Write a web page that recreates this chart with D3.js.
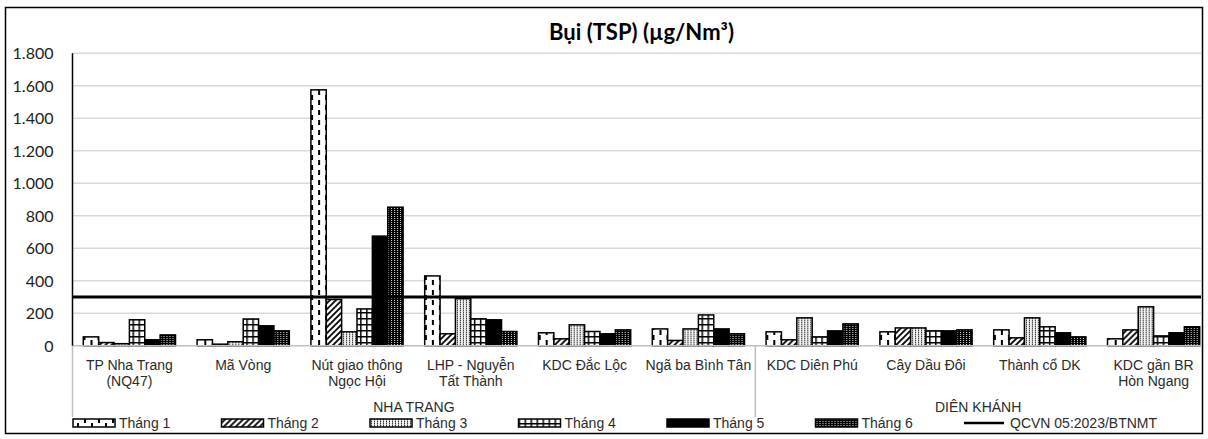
<!DOCTYPE html>
<html>
<head>
<meta charset="utf-8">
<script src="https://cdn.jsdelivr.net/npm/d3@7"></script>
<style>
  body { margin: 0; background: #fff; }
  svg { display: block; }
</style>
</head>
<body>
<svg id="chart" width="1208" height="439"></svg>
<script>
// Monitoring stations (x categories), split into lines for wrapped labels
const categories = [
  ["TP Nha Trang", "(NQ47)"],
  ["Mã Vòng"],
  ["Nút giao thông", "Ngọc Hội"],
  ["LHP - Nguyễn", "Tất Thành"],
  ["KDC Đắc Lộc"],
  ["Ngã ba Bình Tân"],
  ["KDC Diên Phú"],
  ["Cây Dầu Đôi"],
  ["Thành cổ DK"],
  ["KDC gần BR", "Hòn Ngang"]
];
const regionNames = ["NHA TRANG", "DIÊN KHÁNH"];
const regionSizes = [6, 4];

const months = ["Tháng 1", "Tháng 2", "Tháng 3", "Tháng 4", "Tháng 5", "Tháng 6"];

// TSP dust, µg/Nm³, one array per month across the stations
const thang1 = [55, 37, 1575, 430, 80, 104, 86, 86, 98, 43];
const thang2 = [20, 10, 285, 74, 43, 33, 37, 110, 49, 98];
const thang3 = [13, 25, 86, 290, 129, 104, 172, 110, 172, 240];
const thang4 = [160, 165, 227, 166, 88, 190, 55, 92, 117, 61];
const thang5 = [37, 123, 675, 160, 74, 104, 92, 92, 80, 80];
const thang6 = [67, 92, 853, 88, 98, 74, 135, 98, 55, 117];
const seriesValues = [thang1, thang2, thang3, thang4, thang5, thang6];

const limitLabel = "QCVN 05:2023/BTNMT";
const limitValue = 300;

const yTicks = [0, 200, 400, 600, 800, 1000, 1200, 1400, 1600, 1800];
const title = "Bụi (TSP) (µg/Nm³)";

const svg = d3.select("#chart");
const plot = { left: 72.5, right: 1210.5, top: 53.3, bottom: 345.8 };

const fmt = d3.formatLocale({ decimal: ",", thousands: ".", grouping: [3], currency: ["", ""] }).format(",");

// ---- fill patterns ----
const defs = svg.append("defs");
function pattern(id, w, h, build) {
  const p = defs.append("pattern").attr("id", id)
    .attr("patternUnits", "userSpaceOnUse").attr("width", w).attr("height", h);
  build(p);
}
pattern("p1", 14, 10, p => {
  p.append("rect").attr("width", 14).attr("height", 10).attr("fill", "#fff");
  p.append("rect").attr("x", 4).attr("y", 0).attr("width", 2).attr("height", 5).attr("fill", "#000");
  p.append("rect").attr("x", 11).attr("y", 5).attr("width", 2).attr("height", 5).attr("fill", "#000");
});
pattern("p2", 6, 6, p => {
  p.append("rect").attr("width", 6).attr("height", 6).attr("fill", "#fff");
  p.append("path").attr("d", "M0,6L6,0M-1.5,1.5L1.5,-1.5M4.5,7.5L7.5,4.5")
    .attr("stroke", "#000").attr("stroke-width", 1.8);
});
pattern("p3", 3, 2, p => {
  p.append("rect").attr("width", 3).attr("height", 2).attr("fill", "#f2f2f2");
  p.append("rect").attr("x", 1).attr("y", 0).attr("width", 1).attr("height", 1).attr("fill", "#333");
  p.append("rect").attr("x", 1).attr("y", 1).attr("width", 1).attr("height", 1).attr("fill", "#999");
});
pattern("p4", 6, 6, p => {
  p.append("rect").attr("width", 6).attr("height", 6).attr("fill", "#fff");
  p.append("rect").attr("width", 6).attr("height", 1.5).attr("fill", "#000");
  p.append("rect").attr("width", 1.5).attr("height", 6).attr("fill", "#000");
});
pattern("p5", 4, 4, p => {
  p.append("rect").attr("width", 4).attr("height", 4).attr("fill", "#000");
});
pattern("p6", 3, 2, p => {
  p.append("rect").attr("width", 3).attr("height", 2).attr("fill", "#000");
  p.append("rect").attr("x", 1).attr("y", 0).attr("width", 1).attr("height", 1).attr("fill", "#ddd");
});
const fills = ["url(#p1)", "url(#p2)", "url(#p3)", "url(#p4)", "url(#p5)", "url(#p6)"];

// ---- frame ----
svg.append("rect").attr("x", 5.5).attr("y", 7.5).attr("width", 1197).attr("height", 426)
  .attr("fill", "#fff").attr("stroke", "#000").attr("stroke-width", 1.5);

// ---- scales ----
const keys = categories.map((c, i) => i);
const x0 = d3.scaleBand().domain(keys).range([plot.left, plot.right]).padding(0);
const inner = 10.8;
const x1 = d3.scaleBand().domain(d3.range(months.length))
  .range([inner, x0.bandwidth() - inner]).padding(0);
const y = d3.scaleLinear().domain([0, 1800]).range([plot.bottom, plot.top]);

const clipRight = 1201;

// gridlines
svg.append("g").selectAll("line").data(yTicks.filter(t => t > 0)).join("line")
  .attr("x1", plot.left).attr("x2", clipRight)
  .attr("y1", d => y(d)).attr("y2", d => y(d))
  .attr("stroke", "#d9d9d9").attr("stroke-width", 1.5);

// y axis labels
svg.append("g").selectAll("text").data(yTicks).join("text")
  .attr("x", 53.5).attr("y", d => y(d)).attr("dy", "0.36em")
  .attr("text-anchor", "end")
  .style("font-family", "Lato, 'Open Sans', sans-serif").style("font-size", "16px").attr("fill", "#222")
  .text(d => fmt(d));

// bars
const groups = svg.append("g").selectAll("g").data(keys).join("g")
  .attr("transform", i => `translate(${x0(i)},0)`);
groups.selectAll("rect").data(i => seriesValues.map((s, m) => ({ m, v: s[i] }))).join("rect")
  .attr("x", d => x1(d.m)).attr("width", x1.bandwidth())
  .attr("y", d => y(d.v)).attr("height", d => y(0) - y(d.v))
  .attr("fill", d => fills[d.m]).attr("stroke", "#000").attr("stroke-width", 1.5);

// category axis line
svg.append("line").attr("x1", plot.left).attr("x2", clipRight)
  .attr("y1", y(0)).attr("y2", y(0)).attr("stroke", "#bfbfbf").attr("stroke-width", 1.5);

// vertical value axis line
svg.append("line").attr("x1", plot.left).attr("x2", plot.left)
  .attr("y1", plot.top).attr("y2", y(0)).attr("stroke", "#000").attr("stroke-width", 1.5);

// region dividers of the multi-level category axis
let acc = 0;
const dividers = [0];
regionSizes.forEach(n => { acc += n; dividers.push(acc); });
svg.append("g").selectAll("line").data(dividers.slice(0, -1)).join("line")
  .attr("x1", d => x0.range()[0] + d * x0.step()).attr("x2", d => x0.range()[0] + d * x0.step())
  .attr("y1", y(0)).attr("y2", 417).attr("stroke", "#bfbfbf").attr("stroke-width", 1.5);

// limit line
svg.append("line").attr("x1", plot.left).attr("x2", clipRight)
  .attr("y1", y(limitValue)).attr("y2", y(limitValue))
  .attr("stroke", "#000").attr("stroke-width", 3);

// category labels
const catText = svg.append("g").selectAll("text").data(categories).join("text")
  .attr("text-anchor", "middle")
  .style("font-family", "'Liberation Sans', Arial, sans-serif").style("font-size", "14px")
  .attr("fill", "#2b2b2b");
catText.selectAll("tspan").data((d, i) => d.map(t => ({ t, i }))).join("tspan")
  .attr("x", d => x0(d.i) + x0.bandwidth() / 2)
  .attr("y", (d, j) => 370 + j * 16)
  .text(d => d.t);

// region labels
let start = 0;
const regionCenters = regionSizes.map(n => {
  const a = x0.range()[0] + start * x0.step();
  start += n;
  const b = Math.min(x0.range()[0] + start * x0.step(), clipRight);
  return (a + b) / 2;
});
svg.append("g").selectAll("text").data(regionNames).join("text")
  .attr("x", (d, i) => regionCenters[i]).attr("y", 412)
  .attr("text-anchor", "middle")
  .style("font-family", "'Liberation Sans', Arial, sans-serif").style("font-size", "14px")
  .attr("fill", "#2b2b2b").text(d => d);

// title
svg.append("text").attr("x", (plot.left + plot.right) / 2).attr("y", 40)
  .attr("text-anchor", "middle")
  .style("font-family", "Lato, 'Open Sans', sans-serif").style("font-size", "22px")
  .style("font-weight", "bold").attr("fill", "#000").text(title);

// legend
const legendItems = months.map((m, i) => ({ label: m, fill: fills[i], line: false }))
  .concat([{ label: limitLabel, line: true }]);
const lg = svg.append("g").selectAll("g").data(legendItems).join("g")
  .attr("transform", (d, i) => `translate(${73 + i * 148.5},423)`);
lg.filter(d => !d.line).append("rect")
  .attr("x", 0).attr("y", -4).attr("width", 42).attr("height", 8)
  .attr("fill", d => d.fill).attr("stroke", "#000").attr("stroke-width", 1.5);
lg.filter(d => d.line).append("line")
  .attr("x1", 0).attr("x2", 40).attr("y1", 0).attr("y2", 0)
  .attr("stroke", "#000").attr("stroke-width", 2.5);
lg.append("text").attr("x", 46).attr("y", 0).attr("dy", "0.35em")
  .style("font-family", "'Liberation Sans', Arial, sans-serif").style("font-size", "14px")
  .attr("fill", "#2b2b2b").text(d => d.label);
</script>
</body>
</html>
